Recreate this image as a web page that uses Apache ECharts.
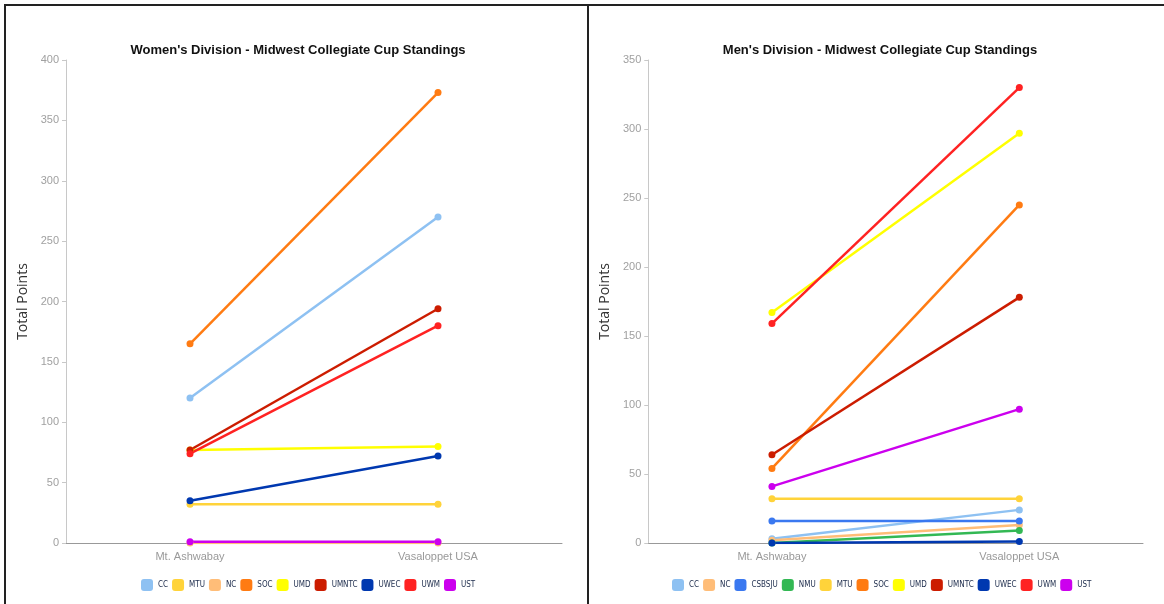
<!DOCTYPE html>
<html>
<head>
<meta charset="utf-8">
<script src="https://cdn.jsdelivr.net/npm/echarts@6/dist/echarts.min.js"></script>
<style>
  html, body { margin: 0; padding: 0; background: #fff; width: 1164px; height: 604px; overflow: hidden; }
  .panel { position: absolute; box-sizing: border-box; border: 2px solid #222; top: 4px; height: 640px; }
  #pl { left: 4px; width: 585px; }
  #pr { left: 587px; width: 620px; }
  #cl { position: absolute; left: 0; top: 0; width: 596px; height: 604px; }
  #cr { position: absolute; left: 590px; top: 0; width: 580px; height: 604px; }
</style>
</head>
<body>
<div class="panel" id="pl"></div>
<div class="panel" id="pr"></div>
<div id="cl"></div>
<div id="cr"></div>
<script>
// ---- data ----
const races = ['Mt. Ashwabay', 'Vasaloppet USA'];

const womenTeams = ['CC', 'MTU', 'NC', 'SOC', 'UMD', 'UMNTC', 'UWEC', 'UWM', 'UST'];
const womenCC    = [120, 270];
const womenMTU   = [32, 32];
const womenNC    = [0, 0];
const womenSOC   = [165, 373];
const womenUMD   = [77, 80];
const womenUMNTC = [77, 194];
const womenUWEC  = [35, 72];
const womenUWM   = [74, 180];
const womenUST   = [1, 1];

const menTeams = ['CC', 'NC', 'CSBSJU', 'NMU', 'MTU', 'SOC', 'UMD', 'UMNTC', 'UWEC', 'UWM', 'UST'];
const menCC     = [3, 24];
const menNC     = [2, 13];
const menCSBSJU = [16, 16];
const menNMU    = [0, 9];
const menMTU    = [32, 32];
const menSOC    = [54, 245];
const menUMD    = [167, 297];
const menUMNTC  = [64, 178];
const menUWEC   = [0, 1];
const menUWM    = [159, 330];
const menUST    = [41, 97];

const womenTicks = { min: 0, max: 400, interval: 50 };
const menTicks   = { min: 0, max: 350, interval: 50 };

const teamColors = {
  CC: '#8ec1f2', MTU: '#ffd33a', NC: '#ffbd78', SOC: '#ff7b12', UMD: '#ffff00',
  UMNTC: '#cc1c00', UWEC: '#0038b0', UWM: '#ff2222', UST: '#cc00ee',
  CSBSJU: '#3a78f0', NMU: '#33b854'
};

const womenData = { CC: womenCC, MTU: womenMTU, NC: womenNC, SOC: womenSOC, UMD: womenUMD,
  UMNTC: womenUMNTC, UWEC: womenUWEC, UWM: womenUWM, UST: womenUST };
const menData = { CC: menCC, NC: menNC, CSBSJU: menCSBSJU, NMU: menNMU, MTU: menMTU, SOC: menSOC,
  UMD: menUMD, UMNTC: menUMNTC, UWEC: menUWEC, UWM: menUWM, UST: menUST };

function buildOption(title, teams, data, ticks, grid, legendLeft) {
  return {
    animation: false,
    title: {
      text: title, left: 'center', top: 39,
      textStyle: { fontFamily: 'Liberation Sans, Arial, sans-serif', fontSize: 13, fontWeight: 'bold', color: '#111' }
    },
    legend: {
      data: teams, left: legendLeft, top: 579, icon: 'roundRect',
      itemWidth: 12, itemHeight: 12, itemGap: 4, padding: 0,
      textStyle: { fontFamily: 'Liberation Sans Narrow, DejaVu Sans Condensed, sans-serif', fontSize: 8, color: '#1c2b4b' }
    },
    grid: grid,
    xAxis: {
      type: 'category', data: races, boundaryGap: true,
      axisTick: { show: false },
      axisLine: { lineStyle: { color: '#999', width: 1 } },
      axisLabel: { color: '#999', fontSize: 11, margin: 8, fontFamily: 'Liberation Sans, Arial, sans-serif' }
    },
    yAxis: {
      type: 'value', min: ticks.min, max: ticks.max, interval: ticks.interval,
      name: 'Total Points', nameLocation: 'middle', nameGap: 36,
      nameTextStyle: { fontFamily: 'Open Sans, sans-serif', fontSize: 14, color: '#333' },
      axisLine: { show: true, lineStyle: { color: '#c8c8c8', width: 1 } },
      axisTick: { show: true, length: 4, lineStyle: { color: '#c8c8c8' } },
      splitLine: { show: false },
      axisLabel: { color: '#a0a0a0', fontSize: 11, margin: 7, fontFamily: 'Liberation Sans, Arial, sans-serif' }
    },
    series: teams.map(t => ({
      name: t, type: 'line', data: data[t],
      symbol: 'circle', symbolSize: 7,
      lineStyle: { width: 2.5, color: teamColors[t] },
      itemStyle: { color: teamColors[t] },
      emphasis: { disabled: true }
    }))
  };
}

const cl = echarts.init(document.getElementById('cl'));
cl.setOption(buildOption('Women\'s Division - Midwest Collegiate Cup Standings', womenTeams, womenData,
  womenTicks, { left: 66, right: 34, top: 60, bottom: 61 }, 141));

const cr = echarts.init(document.getElementById('cr'));
cr.setOption(buildOption('Men\'s Division - Midwest Collegiate Cup Standings', menTeams, menData,
  menTicks, { left: 58, right: 27, top: 60, bottom: 61 }, 82));
</script>
</body>
</html>
